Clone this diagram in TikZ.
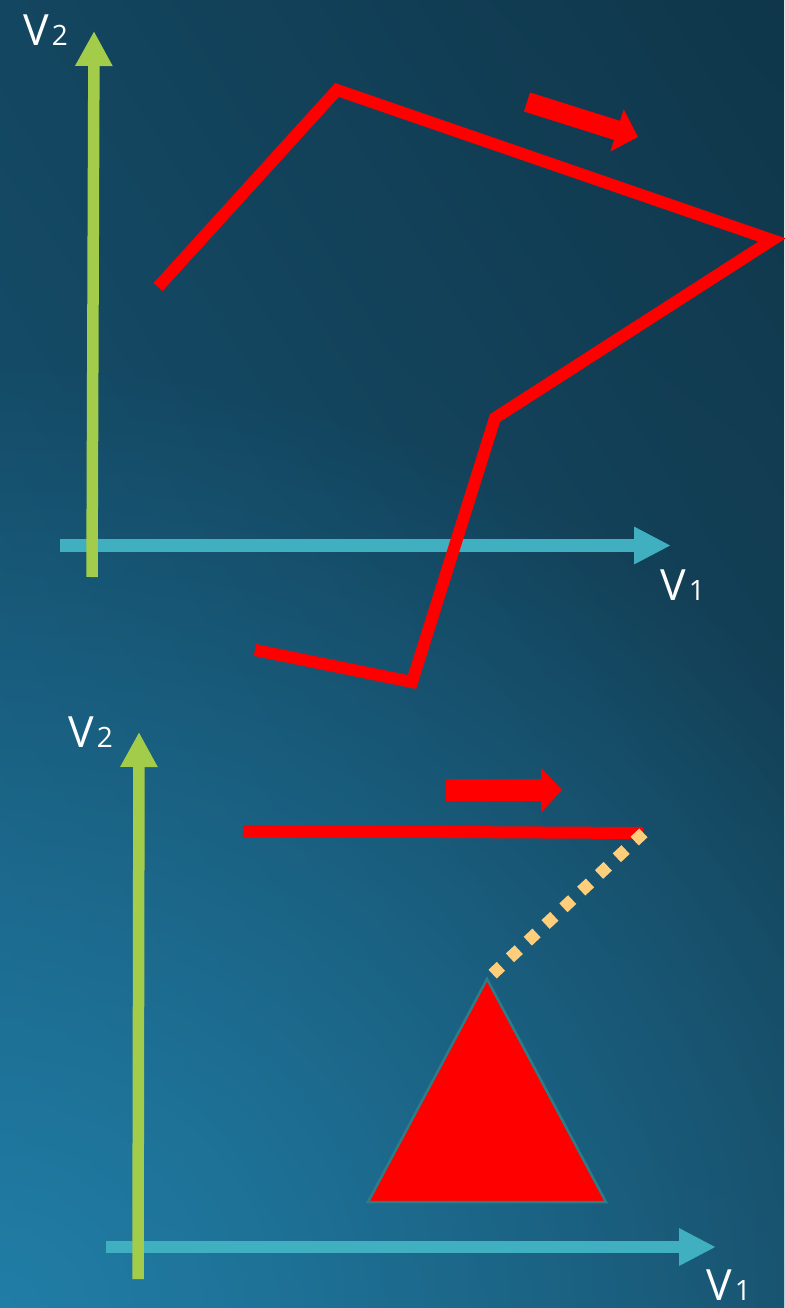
\documentclass[tikz,border=0pt]{standalone}
\usepackage{fontspec}
\setmainfont{Open Sans}
\usetikzlibrary{arrows.meta,shadings,fadings}
\definecolor{bgUL}{HTML}{134660}
\definecolor{bgUR}{HTML}{0F364A}
\definecolor{bgLL}{HTML}{175676}
\definecolor{bgLR}{HTML}{16475F}
\definecolor{bgglow}{HTML}{2282AC}
\definecolor{axgreen}{HTML}{A2CC4A}
\definecolor{axteal}{HTML}{40AFBF}
\definecolor{dotorange}{HTML}{FFCE7A}
\definecolor{triedge}{HTML}{2B7E88}
\tikzfading[name=glowfade, inner color=transparent!10, outer color=transparent!100]
\tikzset{
  lbl/.style={anchor=base west, inner sep=0pt, text depth=0pt, text=white, font=\fontsize{43}{43}\selectfont},
  greenaxis/.style={draw=axgreen, line width=11.5pt, -{Triangle[length=35pt,width=35pt]}},
  tealaxis/.style={draw=axteal, line width=12.5pt, -{Triangle[length=37pt,width=35pt]}},
  redpath/.style={draw=red, line width=12pt, line join=miter, miter limit=10},
  redarrow/.style={draw=red, line width=#1, -{Triangle[length=22pt,width=43pt]}},
}
\newcommand\subdig[1]{\hspace{3pt}{\fontsize{28}{28}\selectfont #1}}
\begin{document}
\begin{tikzpicture}[x=1pt,y=-1pt]
\useasboundingbox (0,0) rectangle (784,1308);
\shade[upper left=bgUL, upper right=bgUR, lower left=bgLL, lower right=bgLR] (0,0) rectangle (784,1308);
\coordinate (glowc) at (0,1308);
\fill[bgglow, path fading=glowfade, fit fading=true] (glowc) ellipse [x radius=1050pt, y radius=950pt];
% ---- top diagram ----
\coordinate (t1a) at (60,545.5);
\coordinate (t1b) at (671,545.5);
\coordinate (t2a) at (92,577);
\coordinate (t2b) at (94,31);
\draw[tealaxis] (t1a) -- (t1b);
\draw[greenaxis] (t2a) -- (t2b);
\node[lbl] (tv2) at (23,46) {V\subdig{2}};
\node[lbl] (tv1) at (660,600) {V\subdig{1}};
\coordinate (p0) at (158,287);
\coordinate (p1) at (337,90);
\coordinate (p2) at (772,240);
\coordinate (p3) at (495,418);
\coordinate (p4) at (412,682);
\coordinate (p5) at (255,650);
\draw[redpath] (p0) -- (p1) -- (p2) -- (p3) -- (p4) -- (p5);
\coordinate (ra0) at (527,102);
\coordinate (ra1) at (638,137);
\draw[redarrow=20pt] (ra0) -- (ra1);
% ---- bottom diagram ----
\coordinate (b1a) at (106,1247);
\coordinate (b1b) at (716,1247);
\coordinate (b2a) at (138,1279);
\coordinate (b2b) at (139,732);
\draw[tealaxis] (b1a) -- (b1b);
\draw[greenaxis] (b2a) -- (b2b);
\node[lbl] (bv2) at (68,747) {V\subdig{2}};
\node[lbl] (bv1) at (706,1300) {V\subdig{1}};
\coordinate (rb0) at (446,790);
\coordinate (rb1) at (562,790);
\draw[draw=red, line width=22pt, -{Triangle[length=21pt,width=44pt]}] (rb0) -- (rb1);
\coordinate (h0) at (243,831);
\coordinate (h1) at (643,833);
\draw[draw=red, line width=12pt] (h0) -- (h1);
\coordinate (ta) at (487,979);
\coordinate (tl) at (368,1202);
\coordinate (tr) at (606,1202);
\filldraw[fill=red, draw=triedge, line width=2.5pt] (ta) -- (tl) -- (tr) -- cycle;
\coordinate (d0) at (643.4,832.9);
\coordinate (d1) at (492.6,974.1);
\draw[draw=dotorange, line width=12pt, dash pattern=on 12pt off 12.4pt] (d0) -- (d1);
\end{tikzpicture}
\end{document}
